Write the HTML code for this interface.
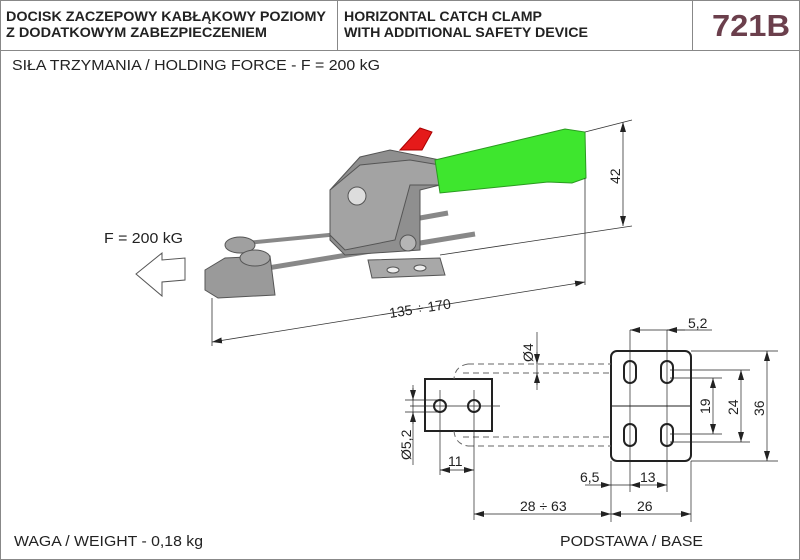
<!DOCTYPE html>
<html><head><style>
body{margin:0;background:#fff}
svg{display:block}
text{font-family:"Liberation Sans",sans-serif}
</style></head><body>
<svg width="800" height="560" viewBox="0 0 800 560" xmlns="http://www.w3.org/2000/svg">
<defs>
<marker id="a" viewBox="0 0 10 6" refX="10" refY="3" markerWidth="10" markerHeight="6" orient="auto-start-reverse" markerUnits="userSpaceOnUse"><path d="M0 0 L10 3 L0 6 Z" fill="#222"/></marker>
</defs>
<rect x="0.5" y="0.5" width="799" height="559" fill="#fff" stroke="#888"/>
<line x1="0" y1="50.5" x2="800" y2="50.5" stroke="#888"/>
<line x1="337.5" y1="0" x2="337.5" y2="50" stroke="#888"/>
<line x1="692.5" y1="0" x2="692.5" y2="50" stroke="#888"/>
<g font-size="14" font-weight="bold" fill="#222">
<text x="6" y="21" textLength="320" lengthAdjust="spacingAndGlyphs">DOCISK ZACZEPOWY KABŁĄKOWY POZIOMY</text>
<text x="6" y="37" textLength="261" lengthAdjust="spacingAndGlyphs">Z DODATKOWYM ZABEZPIECZENIEM</text>
<text x="344" y="21" textLength="198" lengthAdjust="spacingAndGlyphs">HORIZONTAL CATCH CLAMP</text>
<text x="344" y="37" textLength="244" lengthAdjust="spacingAndGlyphs">WITH ADDITIONAL SAFETY DEVICE</text>
</g>
<text x="712" y="36" font-size="31" font-weight="bold" fill="#6b3f4c" textLength="78" lengthAdjust="spacingAndGlyphs">721B</text>
<text x="12" y="70" font-size="15" fill="#222" textLength="368" lengthAdjust="spacingAndGlyphs">SIŁA TRZYMANIA / HOLDING FORCE - F = 200 kG</text>
<text x="14" y="546" font-size="15" fill="#222" textLength="189" lengthAdjust="spacingAndGlyphs">WAGA / WEIGHT - 0,18 kg</text>
<text x="560" y="546" font-size="15" fill="#222" textLength="143" lengthAdjust="spacingAndGlyphs">PODSTAWA / BASE</text>
<text x="104" y="243" font-size="15" fill="#222" textLength="79" lengthAdjust="spacingAndGlyphs">F = 200 kG</text>
<!-- arrow -->
<polygon points="136,274 162,253 162,260 185,258 185,280 162,282 162,296" fill="#fff" stroke="#555"/>
<!-- clamp -->
<g stroke="#555" stroke-width="1">
<line x1="225" y1="245" x2="360" y2="232" stroke="#888" stroke-width="4"/>
<line x1="225" y1="275" x2="475" y2="234" stroke="#888" stroke-width="5"/>
<line x1="420" y1="218" x2="448" y2="213" stroke="#888" stroke-width="5"/>
<path d="M205 270 L225 258 L270 256 L275 295 L218 298 L205 290 Z" fill="#9a9a9a"/>
<ellipse cx="240" cy="245" rx="15" ry="8" fill="#a0a0a0"/>
<ellipse cx="255" cy="258" rx="15" ry="8" fill="#a5a5a5"/>
<path d="M330 190 L360 157 L390 150 L440 160 L440 185 L420 190 L420 250 L345 255 L330 240 Z" fill="#8f8f8f"/>
<path d="M330 190 L360 165 L410 160 L440 165 L440 185 L410 185 L395 240 L345 250 L330 235 Z" fill="#a3a3a3"/>
<circle cx="357" cy="196" r="9" fill="#ddd"/>
<path d="M368 260 L440 258 L445 275 L372 278 Z" fill="#a8a8a8"/>
<ellipse cx="393" cy="270" rx="6" ry="3" fill="#eee"/>
<ellipse cx="420" cy="268" rx="6" ry="3" fill="#eee"/>
<circle cx="408" cy="243" r="8" fill="#b5b5b5"/>
<path d="M400 150 L420 128 L432 132 L422 150 Z" fill="#e51a1a" stroke="#a00"/>
<path d="M435 160 L565 129 L585 132 L586 178 L572 183 L548 182 L440 193 Z" fill="#3ee62e" stroke="#2a9a20"/>
</g>
<!-- clamp dims -->
<g stroke="#333" stroke-width="0.8" fill="none">
<line x1="212" y1="298" x2="212" y2="346"/>
<line x1="585" y1="178" x2="585" y2="285"/>
<line x1="212" y1="342" x2="585" y2="282" marker-start="url(#a)" marker-end="url(#a)"/>
<line x1="585" y1="132" x2="632" y2="120"/>
<line x1="440" y1="255" x2="632" y2="226"/>
<line x1="623" y1="122" x2="623" y2="226" marker-start="url(#a)" marker-end="url(#a)"/>
</g>
<text x="0" y="0" font-size="14" fill="#222" transform="translate(390,318) rotate(-9)">135 ÷ 170</text>
<text x="0" y="0" font-size="14" fill="#222" transform="translate(620,184) rotate(-90)">42</text>
<!-- base drawing -->
<g stroke="#222" stroke-width="2" fill="none">
<rect x="425" y="379" width="67" height="52"/>
<rect x="611" y="351" width="80" height="110" rx="6"/>
<circle cx="440" cy="406" r="6"/><circle cx="474" cy="406" r="6"/>
<rect x="624" y="361" width="12" height="22" rx="6"/><rect x="661" y="361" width="12" height="22" rx="6"/>
<rect x="624" y="424" width="12" height="22" rx="6"/><rect x="661" y="424" width="12" height="22" rx="6"/>
</g>
<line x1="611" y1="406" x2="691" y2="406" stroke="#222"/>
<g stroke="#666" stroke-dasharray="6,4" fill="none">
<path d="M468 364 L611 364"/><path d="M463 373 L611 373"/>
<path d="M463 437 L611 437"/><path d="M468 446 L611 446"/>
<path d="M468 364 Q455 366 454 379"/><path d="M454 431 Q455 444 468 446"/>
</g>
<g stroke="#222" stroke-width="0.7" fill="none">
<line x1="410" y1="406" x2="500" y2="406"/>
<line x1="440" y1="390" x2="440" y2="475"/><line x1="474" y1="390" x2="474" y2="520"/>
<line x1="413" y1="385" x2="413" y2="465"/><line x1="405" y1="400" x2="440" y2="400"/><line x1="405" y1="412" x2="440" y2="412"/>
<line x1="537" y1="332" x2="537" y2="390"/>
<line x1="537" y1="352" x2="537" y2="364" marker-end="url(#a)"/>
<line x1="537" y1="385" x2="537" y2="373" marker-end="url(#a)"/>
<line x1="413" y1="388" x2="413" y2="400" marker-end="url(#a)"/>
<line x1="413" y1="424" x2="413" y2="412" marker-end="url(#a)"/>
<line x1="611" y1="461" x2="611" y2="522"/><line x1="691" y1="461" x2="691" y2="522"/>
<line x1="630" y1="330" x2="630" y2="492"/><line x1="667" y1="330" x2="667" y2="492"/>
<line x1="648" y1="330" x2="712" y2="330"/>
<line x1="648" y1="330" x2="630" y2="330" marker-end="url(#a)"/>
<line x1="685" y1="330" x2="667" y2="330" marker-end="url(#a)"/>
<line x1="691" y1="351" x2="778" y2="351"/><line x1="691" y1="461" x2="778" y2="461"/>
<line x1="670" y1="370" x2="750" y2="370"/><line x1="670" y1="442" x2="750" y2="442"/>
<line x1="670" y1="378" x2="722" y2="378"/><line x1="670" y1="434" x2="722" y2="434"/>
<line x1="767" y1="351" x2="767" y2="461" marker-start="url(#a)" marker-end="url(#a)"/>
<line x1="741" y1="370" x2="741" y2="442" marker-start="url(#a)" marker-end="url(#a)"/>
<line x1="713" y1="378" x2="713" y2="434" marker-start="url(#a)" marker-end="url(#a)"/>
<line x1="440" y1="470" x2="474" y2="470" marker-start="url(#a)" marker-end="url(#a)"/>
<line x1="474" y1="514" x2="611" y2="514" marker-start="url(#a)" marker-end="url(#a)"/>
<line x1="611" y1="514" x2="691" y2="514" marker-start="url(#a)" marker-end="url(#a)"/>
<line x1="585" y1="485" x2="611" y2="485" marker-end="url(#a)"/>
<line x1="611" y1="485" x2="630" y2="485"/>
<line x1="630" y1="485" x2="667" y2="485" marker-start="url(#a)" marker-end="url(#a)"/>
</g>
<g font-size="14" fill="#222">
<text x="688" y="328">5,2</text>
<text x="448" y="466">11</text>
<text x="520" y="511">28 ÷ 63</text>
<text x="637" y="511">26</text>
<text x="580" y="482">6,5</text>
<text x="640" y="482">13</text>
<text transform="translate(533,362) rotate(-90)">Ø4</text>
<text transform="translate(411,460) rotate(-90)">Ø5,2</text>
<text transform="translate(710,414) rotate(-90)">19</text>
<text transform="translate(738,415) rotate(-90)">24</text>
<text transform="translate(764,416) rotate(-90)">36</text>
</g>
</svg>
</body></html>
